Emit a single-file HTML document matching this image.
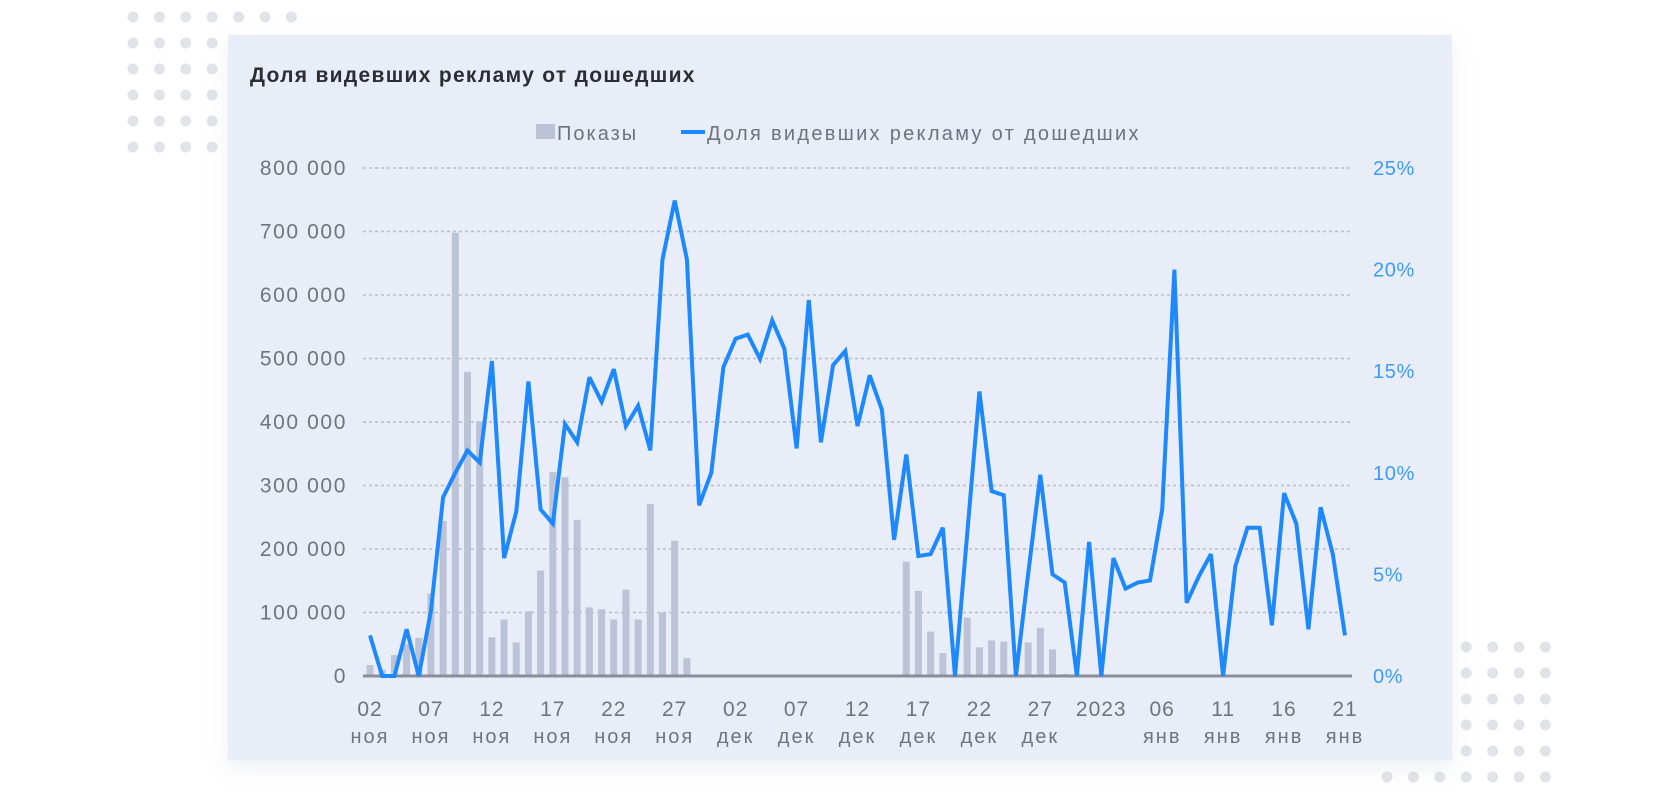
<!DOCTYPE html>
<html><head><meta charset="utf-8">
<style>
html,body{margin:0;padding:0;background:#fff;}
svg{display:block;font-family:"Liberation Sans","DejaVu Sans",sans-serif;}
</style></head>
<body>
<svg id="chart" width="1680" height="796" viewBox="0 0 1680 796" xmlns="http://www.w3.org/2000/svg">
<defs>
<filter id="sh" x="-5%" y="-5%" width="110%" height="115%"><feDropShadow dx="0" dy="8" stdDeviation="10" flood-color="#9aa3b8" flood-opacity="0.18"/></filter>
</defs>
<g id="dots"></g>
<rect x="228" y="35" width="1224" height="725" fill="#e8edf8" filter="url(#sh)"/>
<text x="250" y="82" font-size="21" font-weight="bold" letter-spacing="1.3" fill="#2b2d33">Доля видевших рекламу от дошедших</text>
<g>
<rect x="536" y="124" width="19" height="15" fill="#bcc3d6"/>
<text x="557" y="140" font-size="20" letter-spacing="2" fill="#6f727e">Показы</text>
<rect x="681" y="130" width="24" height="4" fill="#1e88ff"/>
<text x="707" y="140" font-size="20" letter-spacing="2.3" fill="#6f727e">Доля видевших рекламу от дошедших</text>
</g>
<g id="grid"></g>
<g id="bars"></g>
<g id="axes"></g>
<g id="line"></g>
</svg>
<script>
const categories = ["02 ноя","03","04","05","06","07 ноя","08","09","10","11","12 ноя","13","14","15","16","17 ноя","18","19","20","21","22 ноя","23","24","25","26","27 ноя","28","29","30","01","02 дек","03","04","05","06","07 дек","08","09","10","11","12 дек","13","14","15","16","17 дек","18","19","20","21","22 дек","23","24","25","26","27 дек","28","29","30","31","2023","02","03","04","05","06 янв","07","08","09","10","11 янв","12","13","14","15","16 янв","17","18","19","20","21 янв"];
const impressions = [17000,10000,33000,50000,60000,130000,244000,698000,479000,401000,61000,89000,53000,102000,166000,321000,313000,246000,108000,105000,89000,136000,89000,271000,100000,213000,28000,0,0,0,0,0,0,0,0,0,0,0,0,0,0,0,0,0,180000,134000,70000,36000,0,92000,45000,56000,54000,0,53000,76000,42000,3000,0,0,0,0,0,0,0,0,0,0,0,0,0,0,0,0,0,0,0,0,0,0,0];
const sharePct = [2.0,0,0,2.3,0,3.2,8.8,10.0,11.1,10.5,15.5,5.8,8.1,14.5,8.2,7.5,12.4,11.5,14.7,13.5,15.1,12.3,13.3,11.1,20.5,23.4,20.5,8.4,10.0,15.2,16.6,16.8,15.6,17.5,16.1,11.2,18.5,11.5,15.3,16.0,12.3,14.8,13.1,6.7,10.9,5.9,6.0,7.3,0,7.0,14.0,9.1,8.9,0,5.0,9.9,5.0,4.6,0,6.6,0,5.8,4.3,4.6,4.7,8.2,20.0,3.6,4.9,6.0,0,5.4,7.3,7.3,2.5,9.0,7.5,2.3,8.3,6.0,2.0];
const leftTicks = [0,100000,200000,300000,400000,500000,600000,700000,800000];
const leftTickLabels = ["0","100 000","200 000","300 000","400 000","500 000","600 000","700 000","800 000"];
const rightTicks = [0,5,10,15,20,25];
const rightTickLabels = ["0%","5%","10%","15%","20%","25%"];
const xTickIdx = [0,5,10,15,20,25,30,35,40,45,50,55,60,65,70,75,80];
const xTickTop = ["02","07","12","17","22","27","02","07","12","17","22","27","2023","06","11","16","21"];
const xTickBot = ["ноя","ноя","ноя","ноя","ноя","ноя","дек","дек","дек","дек","дек","дек","","янв","янв","янв","янв"];

const NS="http://www.w3.org/2000/svg";
const X0=370, X1=1345, Y0=676, Y1=168;
const xs = i => X0 + (X1-X0)*i/(categories.length-1);
const yL = v => Y0 - (Y0-Y1)*v/800000;
const yR = v => Y0 - (Y0-Y1)*v/25;
function mk(tag, parent, attrs){const e=document.createElementNS(NS,tag);for(const k in attrs)e.setAttribute(k,attrs[k]);document.getElementById(parent).appendChild(e);return e;}

for(let r=0;r<6;r++)for(let c=0;c<7;c++){
  const d=mk('circle','dots',{cx:133+c*26.4,cy:17+r*26,r:5.5,fill:'#e1e3e8'});
  
  
}
for(let r=0;r<6;r++)for(let c=0;c<7;c++){
  const d=mk('circle','dots',{cx:1387+c*26.4,cy:647+r*26,r:5.5,fill:'#e1e3e8'});
  
  
}

leftTicks.forEach((v,i)=>{
  if(v>0){const g=mk('line','grid',{x1:363,x2:1352,y1:yL(v),y2:yL(v),stroke:'#b9bdc8','stroke-width':1.5,'stroke-dasharray':'3 3'});
  
  }
  const t=mk('text','axes',{x:347,y:yL(v)+7,'font-size':21,'letter-spacing':1.6,fill:'#71747f','text-anchor':'end'});
  t.textContent=leftTickLabels[i];
  
  
});
rightTicks.forEach((v,i)=>{
  const t=mk('text','axes',{x:1373,y:yR(v)+7,'font-size':20,'letter-spacing':0.6,fill:'#3d9bff'});
  t.textContent=rightTickLabels[i];
  
  
});
impressions.forEach((v,i)=>{
  if(v<=0)return;
  const b=mk('rect','bars',{x:xs(i)-3.5,y:yL(v),width:7,height:Y0-yL(v),fill:'#bcc3d6'});
  
  
});
const bl=mk('line','axes',{x1:363,x2:1352,y1:Y0,y2:Y0,stroke:'#8a8e9a','stroke-width':3});


xTickIdx.forEach((idx,k)=>{
  const t=mk('text','axes',{x:xs(idx),y:716,'font-size':21,'letter-spacing':1,fill:'#71747f','text-anchor':'middle'});
  t.textContent=xTickTop[k];
  
  
  if(xTickBot[k]){const m=mk('text','axes',{x:xs(idx),y:743,'font-size':20,'letter-spacing':2,fill:'#71747f','text-anchor':'middle'});
  m.textContent=xTickBot[k];
  
  }
});
const pts=sharePct.map((v,i)=>xs(i).toFixed(1)+','+yR(v).toFixed(1)).join(' ');
const pl=mk('polyline','line',{points:pts,fill:'none',stroke:'#1e88ff','stroke-width':4,'stroke-linejoin':'miter','stroke-miterlimit':3});


</script>
</body></html>
